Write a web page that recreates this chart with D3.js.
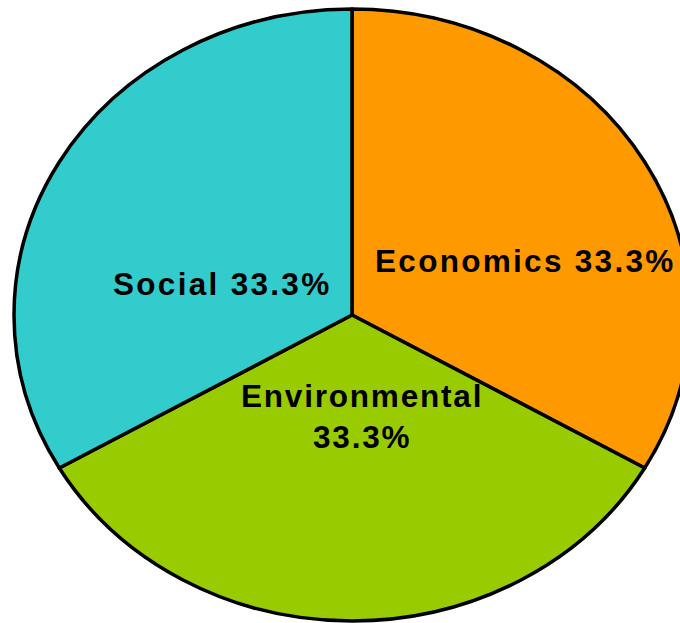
<!DOCTYPE html>
<html><head><meta charset="utf-8">
<script src="https://cdn.jsdelivr.net/npm/d3@7"></script>
<style>html,body{margin:0;padding:0;background:#fff;overflow:hidden}</style>
</head><body>
<svg id="c" width="680" height="623"></svg>
<script>
const categories = ["Economics", "Environmental", "Social"];
const values = [33.3, 33.3, 33.3];
const colors = ["#FF9900", "#99CC00", "#33CCCC"];
const labelLines = [["Economics 33.3%"], ["Environmental", "33.3%"], ["Social 33.3%"]];

const svg = d3.select("#c");
const cx = 352, cy = 315, ry = 306, rx = 338;
const data = categories.map((c, i) => ({name: c, value: values[i], color: colors[i], lines: labelLines[i]}));
const pie = d3.pie().value(d => d.value).sort(null);
const arc = d3.arc().innerRadius(0).outerRadius(ry);
const g = svg.append("g").attr("transform", `translate(${cx},${cy}) scale(${rx/ry},1)`);
g.selectAll("path").data(pie(data)).join("path")
  .attr("d", arc).attr("fill", d => d.data.color)
  .attr("stroke", "#000").attr("stroke-width", 3.5).attr("stroke-linejoin", "round")
  .attr("vector-effect", "non-scaling-stroke");

// label anchor points (left x, first baseline, second-line x, second baseline) per slice
const labelPos = [[375, 272, 0, 0], [241, 407, 313, 448], [113, 295, 0, 0]];
const lg = svg.append("g");
data.forEach((d, i) => {
  const [x, y, x2, y2] = labelPos[i];
  d.lines.forEach((t, j) => {
    lg.append("text")
      .attr("x", j === 0 ? x : x2).attr("y", j === 0 ? y : y2)
      .attr("font-family", "Liberation Sans, Arial, sans-serif")
      .attr("font-weight", "bold").attr("font-size", 31.5)
      .attr("letter-spacing", i === 1 ? "1.8px" : "2.3px").attr("fill", "#000").text(t);
  });
});
</script>
</body></html>
